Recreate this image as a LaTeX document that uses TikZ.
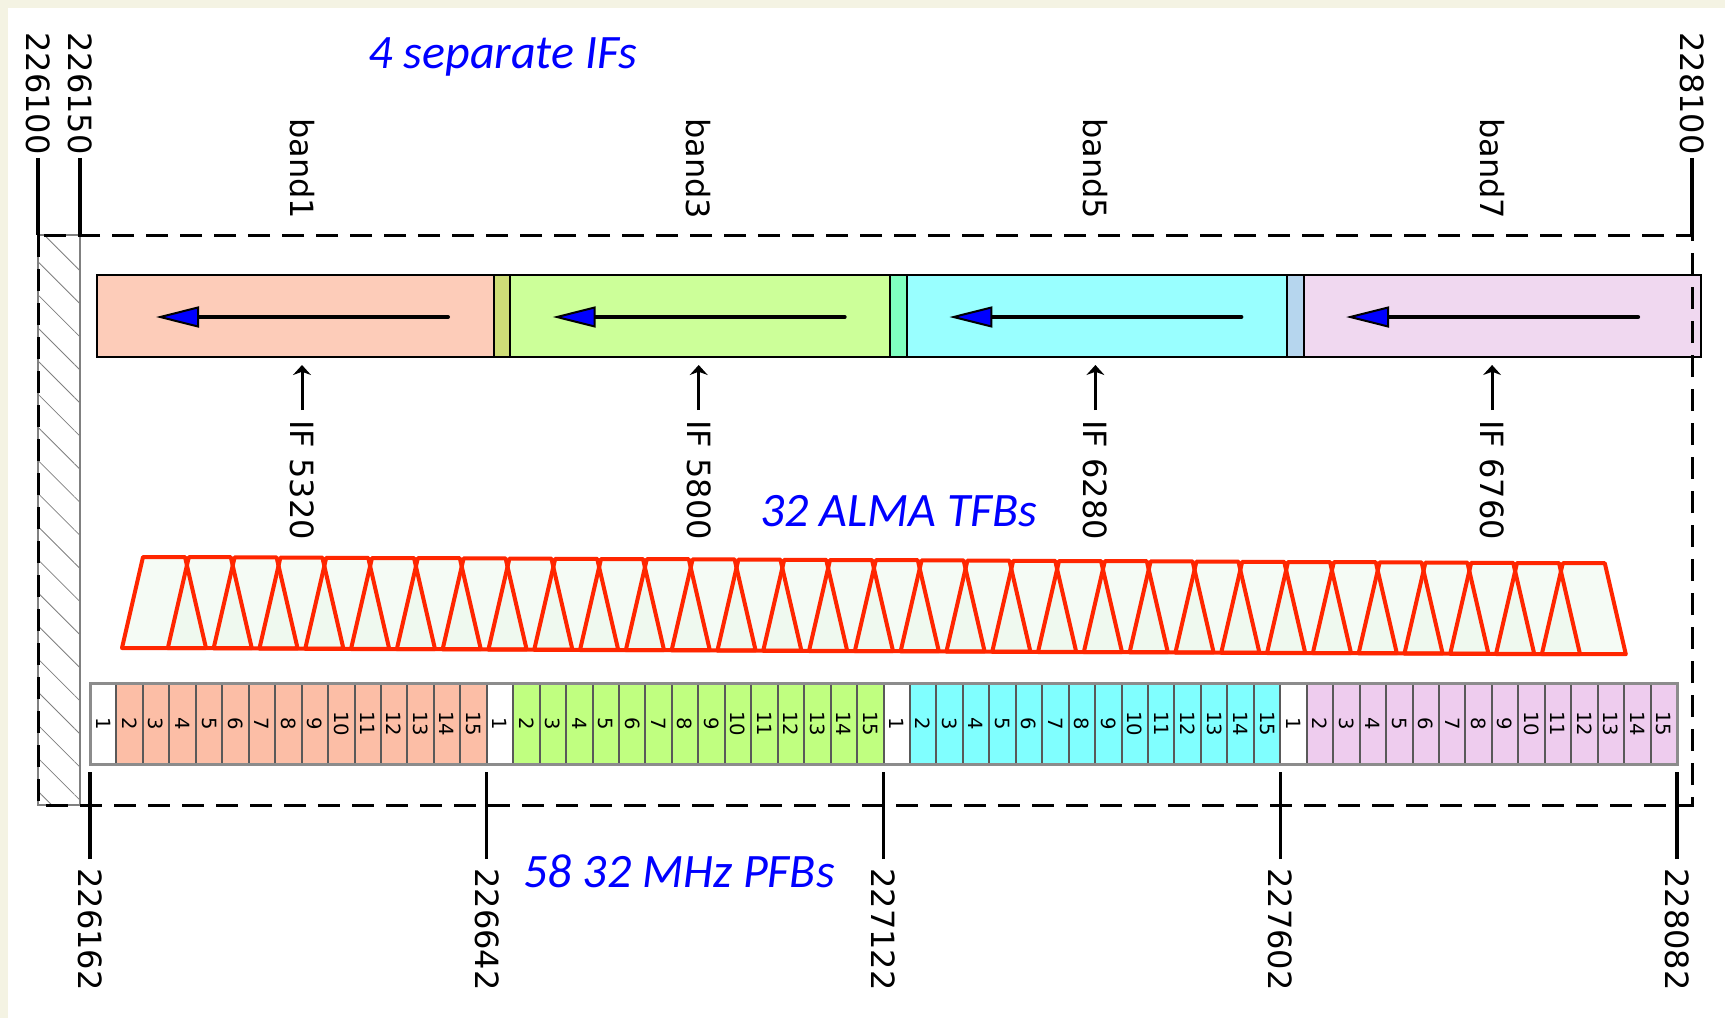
\documentclass[tikz,border=0pt]{standalone}
\usepackage{fontspec}
\setmainfont{DejaVu Sans}
\newfontfamily\notefont{Carlito}
\usetikzlibrary{arrows.meta, patterns.meta}

\definecolor{paper}{RGB}{244,243,227}
\definecolor{bandone}{RGB}{253,204,185}
\definecolor{bandthree}{RGB}{204,255,153}
\definecolor{bandfive}{RGB}{153,255,255}
\definecolor{bandseven}{RGB}{240,216,240}
\definecolor{gapone}{RGB}{206,221,119}
\definecolor{gaptwo}{RGB}{128,255,192}
\definecolor{gapthree}{RGB}{182,214,238}
\definecolor{cellone}{RGB}{252,190,166}
\definecolor{cellthree}{RGB}{192,255,128}
\definecolor{cellfive}{RGB}{128,255,255}
\definecolor{cellseven}{RGB}{238,204,238}
\definecolor{tfbred}{RGB}{255,38,0}
\definecolor{tfbfill}{RGB}{230,246,230}

\begin{document}
\begin{tikzpicture}[
    x=0.5pt, y=-0.5pt,
    ticklabel/.style={
        rotate=-90,
        anchor=west,
        inner sep=0pt,
        font=\fontsize{16}{19}\selectfont
    },
    tickline/.style={line width=1.6pt},
    bandbox/.style={draw, line width=1pt, inner sep=0pt, outer sep=0pt, minimum height=41pt},
    ifarrow/.style={-{Stealth[length=5pt,width=9pt]}, line width=1.5pt},
    flowarrow/.style={-{Triangle[length=21.5pt,width=10.5pt,fill=blue,line width=1pt 0]}, line width=2pt, line cap=round},
    tfbfilling/.style={fill=tfbfill, fill opacity=0.4},
    tfbedge/.style={draw=tfbred, line width=2pt, line join=round},
    pfbcell/.style={
        draw=black!65,
        line width=1pt,
        rotate=-90,
        inner sep=0pt,
        minimum width=40.5pt,
        minimum height=13.225pt,
        font=\fontsize{9.8}{11}\selectfont
    },
    bluenote/.style={text=blue, anchor=base, font=\notefont\itshape\fontsize{24}{28}\selectfont},
    dashframe/.style={line width=1.5pt, dash pattern=on 11pt off 6pt}
]

% --- Page
\fill[paper] (0,0) rectangle (1725,1018);
\fill[white] (8,8) rectangle (1725,1018);

\coordinate (ftl) at (38,235);
\coordinate (fbr) at (1692,805);
\coordinate (bandbot) at (0,357);
\coordinate (pfbbot) at (0,764);

% --- Hatched edge
\draw[gray, line width=1pt, pattern={Lines[angle=-45,distance=11.7pt,line width=0.4pt]}, pattern color=gray] (38,235) rectangle (80,805);

% --- IF bands
\node[bandbox, fill=bandone, minimum width=198.5pt] (band1box) at (295.5,316) {};
\node[bandbox, fill=gapone, minimum width=8pt] (gap1) at (502,316) {};
\node[bandbox, fill=bandthree, minimum width=190pt] (band3box) at (700,316) {};
\node[bandbox, fill=gaptwo, minimum width=8.5pt] (gap2) at (898.5,316) {};
\node[bandbox, fill=bandfive, minimum width=190pt] (band5box) at (1097,316) {};
\node[bandbox, fill=gapthree, minimum width=8.5pt] (gap3) at (1295.5,316) {};
\node[bandbox, fill=bandseven, minimum width=198.5pt] (band7box) at (1502.5,316) {};

\foreach \k/\b/\f in {0/1/5320, 1/3/5800, 2/5/6280, 3/7/6760} {
    \pgfmathsetmacro{\cx}{302+396.7*\k}
    \node[ticklabel] (band\b) at (\cx,118) {band\b};
    \node[ticklabel] (if\b) at (\cx,420) {IF \f};
    \coordinate (tail\b) at (\cx+146,317);
    \coordinate (tip\b) at (\cx-146,317);
    \draw[flowarrow] (tail\b) -- (tip\b);
    \draw[ifarrow, shorten <=5pt, shorten >=4pt] (if\b.west) -- (if\b.west |- bandbot);
}

% --- TFBs (fill first, edges on top)
\foreach \i in {0,...,31} {
    \pgfmathsetmacro{\cx}{164+45.8*\i}
    \pgfmathsetmacro{\dy}{0.2*\i}
    \fill[tfbfilling] (\cx-42,648+\dy) -- (\cx-21,557+\dy) -- (\cx+21,557+\dy) -- (\cx+42,648+\dy) -- cycle;
}
\foreach \i in {0,...,31} {
    \pgfmathsetmacro{\cx}{164+45.8*\i}
    \pgfmathsetmacro{\dy}{0.2*\i}
    \draw[tfbedge] (\cx-42,648+\dy) -- (\cx-21,557+\dy) -- (\cx+21,557+\dy) -- (\cx+42,648+\dy) -- cycle;
}

% --- PFB cells
\foreach \g/\col in {0/cellone, 1/cellthree, 2/cellfive, 3/cellseven} {
    \foreach \j in {1,...,15} {
        \ifnum\j=1 \def\fc{white}\else\def\fc{\col}\fi
        \pgfmathsetmacro{\cx}{90+26.45*(15*\g+\j-1)+13.225}
        \node[pfbcell, fill=\fc] (c\g-\j) at (\cx,723.5) {\j};
    }
}
\draw[black!45, line width=1.5pt] (90,683) rectangle (1677,764);

% --- Frequency ticks
\node[ticklabel] (f226100) at (38,32) {226100};
\node[ticklabel] (f226150) at (80,32) {226150};
\node[ticklabel] (f228100) at (1692,32) {228100};
\foreach \n in {f226100, f226150, f228100}
    \draw[tickline, shorten <=1.5pt] (\n.east) -- (\n.east |- ftl);

\foreach \v/\x in {226162/90, 226642/486.75, 227122/883.5, 227602/1280.25, 228082/1677} {
    \node[ticklabel] (p\v) at (\x,868) {\v};
    \draw[tickline, shorten <=4.5pt, shorten >=4pt] (p\v.west) -- (p\v.west |- pfbbot);
}

% --- Frame
\draw[dashframe] (ftl) rectangle (fbr);

% --- Notes
\node[bluenote] (ifnote) at (503,68) {4 separate IFs};
\node[bluenote] (tfbnote) at (899,526) {32 ALMA TFBs};
\node[bluenote] (pfbnote) at (679,887) {58 32 MHz PFBs};

\end{tikzpicture}
\end{document}
